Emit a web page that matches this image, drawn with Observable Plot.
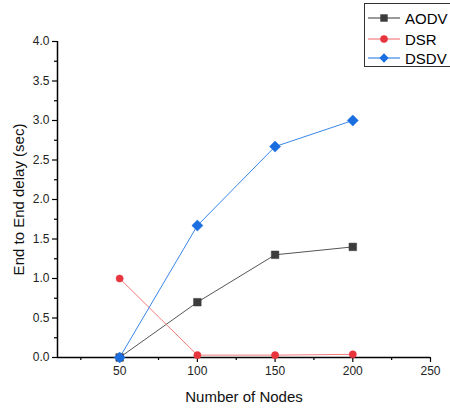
<!DOCTYPE html>
<html>
<head>
<meta charset="utf-8">
<script src="https://cdn.jsdelivr.net/npm/d3@7"></script>
<script src="https://cdn.jsdelivr.net/npm/@observablehq/plot@0.6"></script>
<style>
  html, body { margin: 0; padding: 0; background: #fff; }
  #wrap { position: relative; width: 450px; height: 410px; overflow: hidden; font-family: "Liberation Sans", Arial, sans-serif; }
  #legend { position: absolute; left: 364px; top: 3px; width: 92px; height: 64px; border: 1px solid #333; background: #fff; box-sizing: border-box; }
  #legend .row { position: absolute; left: 0; height: 20px; display: flex; align-items: center; }
  #legend .lbl { font-size: 15px; color: #000; margin-left: 4px; }
</style>
</head>
<body>
<div id="wrap"></div>
<script>
const nodes = [50, 100, 150, 200];
const seriesNames = ["AODV", "DSR", "DSDV"];
const aodv = [0.0, 0.70, 1.30, 1.40];
const dsr = [1.0, 0.03, 0.03, 0.04];
const dsdv = [0.0, 1.67, 2.67, 3.0];
const xTicks = [50, 100, 150, 200, 250];
const xMinor = [25, 75, 125, 175, 225];
const yTicks = [0, 0.5, 1, 1.5, 2, 2.5, 3, 3.5, 4];
const yMinor = [0.25, 0.75, 1.25, 1.75, 2.25, 2.75, 3.25, 3.75];

const lineColors = {AODV: "#555555", DSR: "#f47c7c", DSDV: "#3a86e8"};
const markColors = {AODV: "#3c3c3c", DSR: "#e8343c", DSDV: "#1a6ee0"};
const symbols = {AODV: "square", DSR: "circle", DSDV: "diamond2"};
const sizes = {AODV: 4.3, DSR: 3.6, DSDV: 5};

const values = {AODV: aodv, DSR: dsr, DSDV: dsdv};
const data = seriesNames.flatMap(s => nodes.map((n, i) => ({series: s, x: n, y: values[s][i]})));

const marks = [
  Plot.axisX({ticks: xMinor, tickSize: 3, tickFormat: () => "", label: null, stroke: "#000", strokeWidth: 1.2}),
  Plot.axisX({ticks: xTicks, tickSize: 5, tickPadding: 4, fontSize: 12, label: "Number of Nodes", labelAnchor: "center", labelArrow: "none", labelOffset: 44, stroke: "#000", strokeWidth: 1.2}),
  Plot.axisY({ticks: yMinor, tickSize: 3, tickFormat: () => "", label: null, stroke: "#000", strokeWidth: 1.2}),
  Plot.axisY({ticks: yTicks, tickSize: 5, tickPadding: 3, fontSize: 12, tickFormat: d3.format(".1f"), label: "End to End delay (sec)", labelAnchor: "center", labelArrow: "none", labelOffset: 44, stroke: "#000", strokeWidth: 1.2}),
  Plot.ruleY([0], {stroke: "#000", strokeWidth: 1.5}),
  Plot.ruleX([10], {stroke: "#000", strokeWidth: 1.5})
];
for (const s of seriesNames) {
  const d = data.filter(r => r.series === s);
  marks.push(Plot.line(d, {x: "x", y: "y", stroke: lineColors[s], strokeWidth: 1}));
}
for (const s of seriesNames) {
  const d = data.filter(r => r.series === s);
  marks.push(Plot.dot(d, {x: "x", y: "y", symbol: () => symbols[s], r: sizes[s], fill: markColors[s], stroke: markColors[s], strokeWidth: 0.5}));
}

const chart = Plot.plot({
  width: 450,
  height: 410,
  marginLeft: 57,
  marginRight: 20,
  marginTop: 41,
  marginBottom: 53,
  style: {fontFamily: "'Liberation Sans', Arial, sans-serif", fontSize: "12px", color: "#222", background: "#fff"},
  x: {domain: [10, 250]},
  y: {domain: [0, 4]},
  symbol: {type: "identity"},
  marks
});
chart.querySelectorAll("g[aria-label='x-axis label'] text, g[aria-label='y-axis label'] text").forEach(t => { t.style.fontSize = "15px"; t.setAttribute("fill", "#111"); });
const wrap = document.getElementById("wrap");
wrap.appendChild(chart);

// Legend
const legend = document.createElement("div");
legend.id = "legend";
const rowTops = [4, 25, 44];
seriesNames.forEach((s, i) => {
  const row = document.createElement("div");
  row.className = "row";
  row.style.top = rowTops[i] + "px";
  const sym = d3.create("svg").attr("width", 36).attr("height", 20);
  sym.append("line").attr("x1", 3).attr("x2", 35).attr("y1", 10).attr("y2", 10).attr("stroke", lineColors[s]).attr("stroke-width", 1.2);
  const sy = d3.symbol(s === "AODV" ? d3.symbolSquare : s === "DSR" ? d3.symbolCircle : d3.symbolDiamond2, s === "DSR" ? 45 : 55);
  sym.append("path").attr("d", sy()).attr("transform", "translate(19,10)").attr("fill", markColors[s]);
  row.appendChild(sym.node());
  const lbl = document.createElement("span");
  lbl.className = "lbl";
  lbl.textContent = s;
  row.appendChild(lbl);
  legend.appendChild(row);
});
wrap.appendChild(legend);
</script>
</body>
</html>
